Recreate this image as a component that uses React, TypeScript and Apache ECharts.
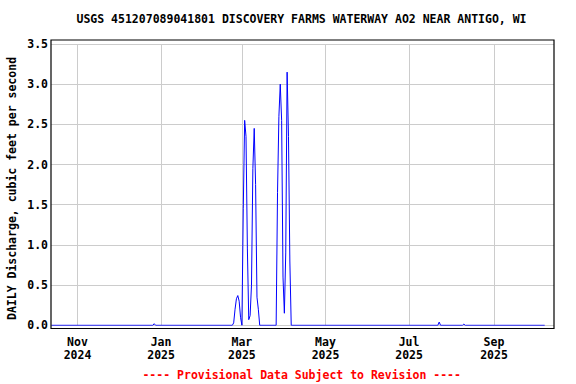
import React, { useEffect, useRef } from "react";
import * as echarts from "echarts";

const titleText = "USGS 451207089041801 DISCOVERY FARMS WATERWAY AO2 NEAR ANTIGO, WI";
const yAxisTitle = "DAILY Discharge, cubic feet per second";
const footerText = "---- Provisional Data Subject to Revision ----";

const flowDates = [
  "2024-10-13",
  "2024-12-26", "2024-12-27", "2024-12-28",
  "2025-02-22", "2025-02-23", "2025-02-24", "2025-02-25", "2025-02-26", "2025-02-27", "2025-02-28",
  "2025-03-01", "2025-03-02", "2025-03-03", "2025-03-04", "2025-03-05", "2025-03-06", "2025-03-07",
  "2025-03-08", "2025-03-09", "2025-03-10", "2025-03-11", "2025-03-12", "2025-03-13", "2025-03-14",
  "2025-03-26", "2025-03-27", "2025-03-28", "2025-03-29", "2025-03-30", "2025-03-31",
  "2025-04-01", "2025-04-02", "2025-04-03", "2025-04-04", "2025-04-05", "2025-04-06",
  "2025-07-22", "2025-07-23", "2025-07-24",
  "2025-08-09", "2025-08-10", "2025-08-11",
  "2025-10-08",
];
const flowValues = [
  0,
  0, 0.02, 0,
  0, 0.03, 0.2, 0.33, 0.37, 0.3, 0.1,
  0, 1.45, 2.55, 2.35, 0.95, 0.07, 0.12,
  0.5, 1.95, 2.45, 1.75, 0.35, 0.2, 0,
  0, 1.65, 2.6, 3.0, 2.55, 0.6,
  0.15, 0.9, 3.15, 2.35, 0.8, 0,
  0, 0.04, 0,
  0, 0.015, 0,
  0,
];

const tickDates = ["2024-11-01", "2025-01-01", "2025-03-01", "2025-05-01", "2025-07-01", "2025-09-01"];
const monthNames = ["Jan", "Feb", "Mar", "Apr", "May", "Jun", "Jul", "Aug", "Sep", "Oct", "Nov", "Dec"];
const xStart = "2024-10-12T16:00:00Z";
const xEnd = "2025-10-14T19:00:00Z";
const yTicks = [0, 0.5, 1, 1.5, 2, 2.5, 3, 3.5];

const toTs = (s: string) => {
  const [y, m, d] = s.split("-").map(Number);
  return Date.UTC(y, m - 1, d);
};

const FONT = "DejaVu Sans Mono";

export default function App() {
  const ref = useRef<HTMLDivElement>(null);
  useEffect(() => {
    if (!ref.current) return;
    const chart = echarts.init(ref.current, null, { renderer: "svg" });
    const data = flowDates.map((d, i) => [toTs(d), flowValues[i]]);
    const tickTs = tickDates.map(toTs);
    chart.setOption({
      animation: false,
      backgroundColor: "#ffffff",
      grid: { left: 51, right: 22, top: 44, bottom: 58.7, show: false },
      xAxis: {
        type: "value",
        min: Date.parse(xStart),
        max: Date.parse(xEnd),
        axisLine: { show: false },
        axisTick: { show: false, customValues: tickTs },
        splitLine: { show: true, lineStyle: { color: "#cccccc", width: 1 } },
        axisLabel: {
          customValues: tickTs,
          margin: 10,
          fontFamily: FONT,
          fontWeight: "bold",
          fontSize: 11.5,
          lineHeight: 13,
          color: "#000",
          align: "center",
          showMinLabel: true,
          showMaxLabel: true,
          formatter: (v: number) => {
            const d = new Date(v);
            return monthNames[d.getUTCMonth()] + "\n" + d.getUTCFullYear();
          },
        },
      },
      yAxis: {
        type: "value",
        min: 0,
        max: 3.5,
        interval: 0.5,
        axisLine: { show: false },
        axisTick: { show: false },
        splitLine: { show: true, lineStyle: { color: "#cccccc", width: 1 } },
        axisLabel: {
          margin: 3,
          fontFamily: FONT,
          fontWeight: "bold",
          fontSize: 11.5,
          color: "#000",
          formatter: (v: number) => (yTicks.includes(v) ? v.toFixed(1) : ""),
        },
      },
      series: [
        {
          type: "line",
          data,
          showSymbol: false,
          symbol: "none",
          lineStyle: { color: "#0000ff", width: 1 },
          z: 3,
        },
      ],
      graphic: [
        {
          type: "rect",
          shape: { x: 51, y: 40, width: 503, height: 288.5 },
          style: { fill: "none", stroke: "#000", lineWidth: 1.2 },
          z: 10,
        },
        {
          type: "text",
          x: 301.5,
          y: 19,
          style: {
            text: titleText,
            fontFamily: FONT,
            fontWeight: "bold",
            fontSize: 11.5,
            fill: "#000",
            align: "center",
            verticalAlign: "middle",
          },
        },
        {
          type: "text",
          x: 12,
          y: 188.5,
          rotation: Math.PI / 2,
          style: {
            text: yAxisTitle,
            fontFamily: FONT,
            fontWeight: "bold",
            fontSize: 11.5,
            fill: "#000",
            align: "center",
            verticalAlign: "middle",
          },
        },
        {
          type: "text",
          x: 301.7,
          y: 375,
          style: {
            text: footerText,
            fontFamily: FONT,
            fontWeight: "bold",
            fontSize: 11.5,
            fill: "#ff0000",
            align: "center",
            verticalAlign: "middle",
          },
        },
      ],
    });
    return () => chart.dispose();
  }, []);
  return (
    <div
      ref={ref}
      style={{ position: "fixed", left: 0, top: 0, width: 576, height: 384 }}
    />
  );
}
